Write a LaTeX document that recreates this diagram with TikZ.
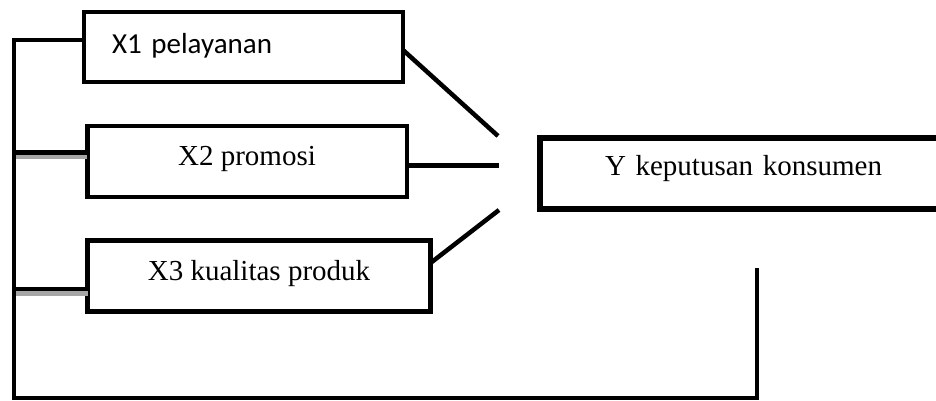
\documentclass[tikz,border=0pt]{standalone}
\usepackage{fontspec}
\setmainfont{Liberation Serif}
\newfontfamily\calibri{Carlito}
\begin{document}
\begin{tikzpicture}[x=1pt,y=-1pt,line join=miter,
 every node/.style={font=\fontsize{29}{34}\selectfont,inner sep=0pt,outer sep=0pt},
 varbox/.style={draw,line width=4.5pt,rectangle,minimum height=70pt,text height=20pt},
 link/.style={line width=4.5pt},
 shade/.style={line width=4.5pt,gray!70}]
  \useasboundingbox (0,0) rectangle (936,400);
  \node[varbox,text width=263pt,inner xsep=28pt,text depth=8pt,
        font=\calibri\fontsize{29}{34}\selectfont] (x1) at (243.5,47) {X1 pelayanan};
  \node[varbox,minimum width=319.5pt,minimum height=71pt,text depth=13pt] (x2) at (247,161.5) {X2 promosi};
  \node[varbox,minimum width=343pt,minimum height=71pt,text depth=12pt] (x3) at (259,276) {X3 kualitas produk};
  \node[varbox,line width=5.5pt,minimum height=71pt,text depth=17pt,
        text width=400pt,inner xsep=65pt] (y) at (805,173.5) {Y keputusan konsumen};
  % free ends in front of Y
  \coordinate (j1) at (498,136);
  \coordinate (j2) at (499,165.5);
  \coordinate (j3) at (499,210);
  \draw[link] ([yshift=-3pt]x1.east) -- (j1);
  \draw[link] ([yshift=-4pt]x2.east) -- (j2);
  \draw[link] ([yshift=13pt]x3.east) -- (j3);
  % left bus and feedback line
  \coordinate (t1) at (14,40);
  \coordinate (t2) at (14,152.5);
  \coordinate (t3) at (14,289);
  \coordinate (bl) at (14,398);
  \coordinate (br) at (757,398);
  \coordinate (fb) at (757,268);
  \draw[shade] (14,157) -- (x2.west |- 0,157);
  \draw[shade] (14,293.5) -- (x3.west |- 0,293.5);
  \draw[link] (x1.west |- t1) -- (t1) -- (bl) -- (br) -- (fb);
  \draw[link] (t2) -- (x2.west |- t2);
  \draw[link] (t3) -- (x3.west |- t3);
\end{tikzpicture}
\end{document}
